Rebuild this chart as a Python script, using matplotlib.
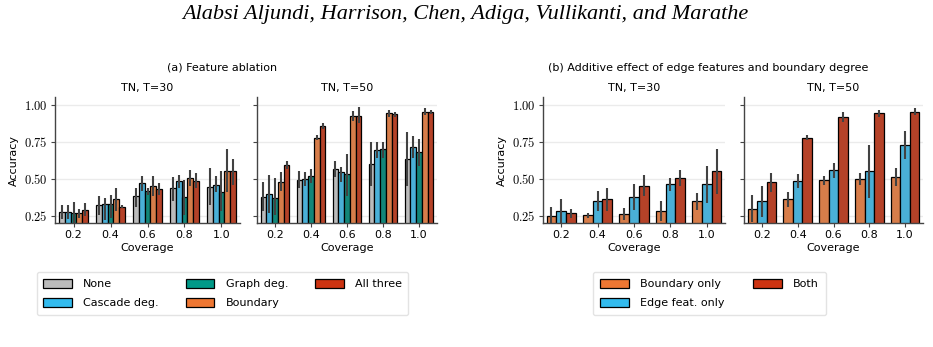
import colorsys
import numpy as np
import matplotlib
matplotlib.use('Agg')
import matplotlib.pyplot as plt
import matplotlib.colors as mcolors
from matplotlib.patches import Patch

coverage = ['0.2', '0.4', '0.6', '0.8', '1.0']

# (a) feature ablation: mean accuracy and CI bounds per feature set
ablation_names = ['None', 'Cascade deg.', 'Graph deg.', 'Boundary', 'All three']
t30_mean = {
    'None':         [0.275, 0.322, 0.380, 0.437, 0.444],
    'Cascade deg.': [0.275, 0.330, 0.470, 0.486, 0.455],
    'Graph deg.':   [0.266, 0.330, 0.420, 0.376, 0.408],
    'Boundary':     [0.266, 0.363, 0.450, 0.505, 0.554],
    'All three':    [0.288, 0.308, 0.430, 0.486, 0.554],
}
t30_lo = {
    'None':         [0.23, 0.257, 0.31, 0.35, 0.32],
    'Cascade deg.': [0.23, 0.22, 0.42, 0.437, 0.41],
    'Graph deg.':   [0.19, 0.235, 0.39, 0.257, 0.28],
    'Boundary':     [0.235, 0.28, 0.38, 0.45, 0.41],
    'All three':    [0.245, 0.30, 0.39, 0.437, 0.46],
}
t30_hi = {
    'None':         [0.324, 0.38, 0.44, 0.51, 0.57],
    'Cascade deg.': [0.32, 0.37, 0.52, 0.527, 0.516],
    'Graph deg.':   [0.34, 0.39, 0.44, 0.493, 0.55],
    'Boundary':     [0.297, 0.437, 0.52, 0.56, 0.70],
    'All three':    [0.335, 0.32, 0.47, 0.54, 0.635],
}
t50_mean = {
    'None':         [0.376, 0.493, 0.565, 0.600, 0.637],
    'Cascade deg.': [0.400, 0.497, 0.543, 0.694, 0.714],
    'Graph deg.':   [0.370, 0.522, 0.534, 0.700, 0.680],
    'Boundary':     [0.475, 0.780, 0.925, 0.944, 0.955],
    'All three':    [0.595, 0.858, 0.925, 0.937, 0.955],
}
t50_lo = {
    'None':         [0.28, 0.44, 0.51, 0.453, 0.448],
    'Cascade deg.': [0.268, 0.45, 0.48, 0.64, 0.64],
    'Graph deg.':   [0.257, 0.47, 0.38, 0.64, 0.588],
    'Boundary':     [0.414, 0.76, 0.89, 0.917, 0.932],
    'All three':    [0.565, 0.838, 0.876, 0.92, 0.94],
}
t50_hi = {
    'None':         [0.475, 0.55, 0.62, 0.748, 0.82],
    'Cascade deg.': [0.527, 0.545, 0.583, 0.752, 0.79],
    'Graph deg.':   [0.504, 0.567, 0.67, 0.752, 0.77],
    'Boundary':     [0.543, 0.80, 0.96, 0.97, 0.977],
    'All three':    [0.62, 0.88, 0.984, 0.95, 0.97],
}

# (b) additive effect of edge features and boundary degree
additive_names = ['Boundary only', 'Edge feat. only', 'Both']
b30_mean = {
    'Boundary only':   [0.250, 0.254, 0.263, 0.284, 0.347],
    'Edge feat. only': [0.284, 0.350, 0.378, 0.464, 0.464],
    'Both':            [0.268, 0.363, 0.453, 0.505, 0.550],
}
b30_lo = {
    'Boundary only':   [0.19, 0.234, 0.22, 0.216, 0.29],
    'Edge feat. only': [0.20, 0.28, 0.29, 0.42, 0.335],
    'Both':            [0.234, 0.28, 0.38, 0.45, 0.396],
}
b30_hi = {
    'Boundary only':   [0.31, 0.27, 0.30, 0.35, 0.403],
    'Edge feat. only': [0.365, 0.42, 0.464, 0.505, 0.588],
    'Both':            [0.297, 0.437, 0.527, 0.56, 0.70],
}
b50_mean = {
    'Boundary only':   [0.295, 0.363, 0.490, 0.497, 0.510],
    'Edge feat. only': [0.347, 0.486, 0.558, 0.550, 0.730],
    'Both':            [0.475, 0.780, 0.920, 0.944, 0.955],
}
b50_lo = {
    'Boundary only':   [0.21, 0.31, 0.455, 0.455, 0.45],
    'Edge feat. only': [0.24, 0.437, 0.505, 0.37, 0.633],
    'Both':            [0.41, 0.76, 0.887, 0.917, 0.932],
}
b50_hi = {
    'Boundary only':   [0.39, 0.41, 0.52, 0.54, 0.572],
    'Edge feat. only': [0.45, 0.534, 0.606, 0.73, 0.826],
    'Both':            [0.54, 0.80, 0.955, 0.97, 0.977],
}

colors = {
    'None': '#BBBBBB',
    'Cascade deg.': '#33BBEE',
    'Graph deg.': '#009988',
    'Boundary': '#EE7733',
    'All three': '#CC3311',
    'Boundary only': '#EE7733',
    'Edge feat. only': '#33BBEE',
    'Both': '#CC3311',
}

plt.rcParams['font.family'] = 'DejaVu Sans'
plt.rcParams['mathtext.fontset'] = 'cm'


def desat(c, prop=0.75):
    r, g, b = mcolors.to_rgb(c)
    h, l, s = colorsys.rgb_to_hls(r, g, b)
    return colorsys.hls_to_rgb(h, l, s * prop)


def draw_panel(ax, names, means, lows, highs, title, show_ylabels):
    x = np.arange(len(coverage))
    width = 0.8 / len(names)
    for i, name in enumerate(names):
        pos = x - 0.4 + width * (i + 0.5)
        ax.bar(pos, means[name], width, color=desat(colors[name]),
               edgecolor='black', linewidth=0.9, zorder=2)
        ax.vlines(pos, lows[name], highs[name], color='#424242', linewidth=1.5, zorder=3)
    ax.set_xlim(-0.5, 4.5)
    ax.set_ylim(0.2, 1.055)
    ax.set_xticks(x)
    ax.set_xticklabels(coverage, fontsize=8)
    ax.set_yticks([0.25, 0.5, 0.75, 1.0])
    if show_ylabels:
        ax.set_yticklabels([r'$0.25$', r'$0.50$', r'$0.75$', r'$1.00$'], fontsize=9)
        ax.set_ylabel('Accuracy', fontsize=8)
    else:
        ax.set_yticklabels([])
    ax.set_xlabel('Coverage', fontsize=8, labelpad=2)
    ax.set_title(title, fontsize=8, pad=4)
    ax.grid(axis='y', color='#ebebeb', linewidth=1)
    ax.set_axisbelow(True)
    for s in ['top', 'right']:
        ax.spines[s].set_visible(False)
    for s in ['left', 'bottom']:
        ax.spines[s].set_color('#444444')
        ax.spines[s].set_linewidth(1)
    ax.tick_params(length=3, width=0.8, color='#444444', pad=2)


fig = plt.figure(figsize=(9.33, 3.47), dpi=100)
W, H = 933, 347
bottom = 1 - 223 / H
height = 126 / H
ax1 = fig.add_axes([55 / W, bottom, 185 / W, height])
ax2 = fig.add_axes([257 / W, bottom, 180 / W, height])
ax3 = fig.add_axes([543 / W, bottom, 182 / W, height])
ax4 = fig.add_axes([744 / W, bottom, 179 / W, height])

draw_panel(ax1, ablation_names, t30_mean, t30_lo, t30_hi, 'TN, T=30', True)
draw_panel(ax2, ablation_names, t50_mean, t50_lo, t50_hi, 'TN, T=50', False)
draw_panel(ax3, additive_names, b30_mean, b30_lo, b30_hi, 'TN, T=30', True)
draw_panel(ax4, additive_names, b50_mean, b50_lo, b50_hi, 'TN, T=50', False)

fig.text(465 / W, 1 - 14 / H, 'Alabsi Aljundi, Harrison, Chen, Adiga, Vullikanti, and Marathe',
         ha='center', va='center', fontsize=16, style='italic', family='Liberation Serif')
fig.text(222.5 / W, 1 - 68 / H, '(a) Feature ablation', ha='center', va='center', fontsize=8)
fig.text(708.5 / W, 1 - 68 / H, '(b) Additive effect of edge features and boundary degree',
         ha='center', va='center', fontsize=8)

handles_a = [Patch(facecolor=colors[n], edgecolor='black', linewidth=0.9, label=n) for n in ablation_names]
handles_b = [Patch(facecolor=colors[n], edgecolor='black', linewidth=0.9, label=n) for n in additive_names]
leg_kw = dict(loc='upper center', fontsize=8, handlelength=2.6, handleheight=0.9,
              frameon=True, fancybox=True, edgecolor='#dddddd', borderpad=0.6,
              labelspacing=0.8, handletextpad=1.0, borderaxespad=0)
fig.legend(handles=handles_a, ncol=3, bbox_to_anchor=(222.5 / W, 1 - 272 / H),
           columnspacing=2.4, **leg_kw)
fig.legend(handles=handles_b, ncol=2, bbox_to_anchor=(709.5 / W, 1 - 272 / H),
           columnspacing=2.6, **leg_kw)

fig.savefig('out.png', dpi=100)
